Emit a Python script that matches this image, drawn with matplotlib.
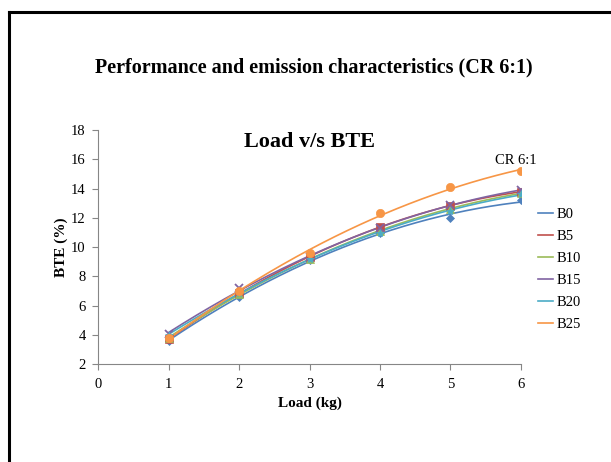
import numpy as np
import matplotlib
matplotlib.use("Agg")
import matplotlib.pyplot as plt
from matplotlib.lines import Line2D

plt.rcParams['font.family'] = ['Liberation Serif', 'DejaVu Serif']

load = [1, 2, 3, 4, 5, 6]
series_names = ["B0", "B5", "B10", "B15", "B20", "B25"]
bte_b0 = [3.6, 6.6, 9.1, 11.0, 12.0, 13.2]
bte_b5 = [3.7, 6.9, 9.3, 11.4, 12.8, 13.8]
bte_b10 = [3.8, 6.8, 9.2, 11.1, 12.6, 13.7]
bte_b15 = [4.1, 7.2, 9.3, 11.3, 12.9, 13.9]
bte_b20 = [4.0, 6.9, 9.2, 11.0, 12.5, 13.6]
bte_b25 = [3.8, 7.0, 9.6, 12.3, 14.1, 15.2]
x_ticks = [0, 1, 2, 3, 4, 5, 6]
y_ticks = [2, 4, 6, 8, 10, 12, 14, 16, 18]

values = [bte_b0, bte_b5, bte_b10, bte_b15, bte_b20, bte_b25]
colors = ["#4F81BD", "#C0504D", "#9BBB59", "#8064A2", "#4BACC6", "#F79646"]
markers = ["D", "s", "^", "x", "*", "o"]
msizes = [4.5, 6, 6, 6, 6, 6]

fig = plt.figure(figsize=(6.11, 4.62), dpi=100)
ax = fig.add_axes([0.1609, 0.2115, 0.6913, 0.5071])

handles = []
for name, vals, c, m, ms in zip(series_names, values, colors, markers, msizes):
    x = np.array(load, dtype=float)
    y = np.array(vals, dtype=float)
    # second-order polynomial trend through each blend's points
    coef = np.polyfit(x, y, 2)
    xs = np.linspace(x.min(), x.max(), 200)
    ax.plot(xs, np.polyval(coef, xs), color=c, lw=1.2, zorder=2)
    ax.plot(x, y, linestyle="none", marker=m, color=c, markersize=ms,
            markeredgewidth=1.3 if m == "x" else 0.5, zorder=3)
    handles.append(Line2D([0], [0], color=c, lw=1.2))

ax.set_xlim(0, 6)
ax.set_ylim(2, 18)
ax.set_xticks(x_ticks)
ax.set_yticks(y_ticks)
ax.tick_params(axis="both", direction="out", length=4, color="#868686",
               labelsize=10.5, width=0.8)
ax.tick_params(axis="x", pad=6)
ax.tick_params(axis="y", pad=5)
for side in ("top", "right"):
    ax.spines[side].set_visible(False)
for side in ("left", "bottom"):
    ax.spines[side].set_color("#868686")
    ax.spines[side].set_linewidth(0.8)

ax.set_xlabel("Load (kg)", fontsize=11, fontweight="bold", labelpad=4)
ax.set_ylabel("BTE (%)", fontsize=11, fontweight="bold", labelpad=2)

ax.text(0.5, 0.949, "Load v/s BTE", transform=ax.transAxes, ha="center",
        va="center", fontsize=16, fontweight="bold")
ax.text(5.93, 15.45, "CR 6:1", ha="center", va="bottom", fontsize=10.5)

ax.legend(handles, series_names, loc="center left",
          bbox_to_anchor=(1.01, 0.405), frameon=False, fontsize=10.5,
          handlelength=1.0, handletextpad=0.25, labelspacing=0.6)

fig.text(0.513, 0.855, "Performance and emission characteristics (CR 6:1)",
         ha="center", va="center", fontsize=14.5, fontweight="bold")

# slide frame along the top and left edges
W, H = 611, 462
fig.add_artist(Line2D([9 / W, 1.0], [1 - 12 / H, 1 - 12 / H],
                      transform=fig.transFigure, color="black", lw=2.2))
fig.add_artist(Line2D([9 / W, 9 / W], [0.0, 1 - 12 / H],
                      transform=fig.transFigure, color="black", lw=2.2))

fig.savefig("out.png", dpi=100, facecolor="white")
